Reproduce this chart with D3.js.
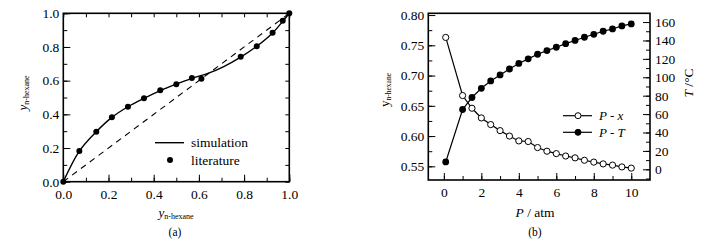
<!DOCTYPE html>
<html>
<head>
<meta charset="utf-8">
<script src="https://cdn.jsdelivr.net/npm/d3@7"></script>
<style>
  body { margin: 0; background: #fff; }
  svg text { font-family: "Liberation Serif", "Times New Roman", serif; fill: #000; }
  .frame { fill: none; stroke: #000; stroke-width: 1.6; }
  .tick line { stroke: #000; stroke-width: 1; }
  .domain { display: none; }
</style>
</head>
<body>
<div id="chart"></div>
<script>
// DATA (a): x-y diagram
var litX = [0, 0.071, 0.146, 0.215, 0.286, 0.357, 0.429, 0.5, 0.569, 0.611, 0.785, 0.856, 0.926, 0.971, 1.0]
var litY = [0, 0.182, 0.297, 0.382, 0.445, 0.495, 0.543, 0.578, 0.616, 0.612, 0.742, 0.804, 0.885, 0.956, 1.0]
var simX = [0, 0.071, 0.146, 0.215, 0.286, 0.357, 0.429, 0.5, 0.569, 0.64, 0.71, 0.785, 0.856, 0.926, 0.971, 1.0]
var simY = [0, 0.182, 0.297, 0.382, 0.445, 0.495, 0.541, 0.58, 0.614, 0.643, 0.684, 0.74, 0.804, 0.883, 0.952, 1.0]
var diagonal = [0, 1]
var ticksA = [0, 0.2, 0.4, 0.6, 0.8, 1.0]

// DATA (b): pressure sweep
var pressure = [0.1, 1, 1.5, 2, 2.5, 3, 3.5, 4, 4.5, 5, 5.5, 6, 6.5, 7, 7.5, 8, 8.5, 9, 9.5, 10]
var yHexane  = [0.763, 0.667, 0.646, 0.630, 0.619, 0.609, 0.600, 0.592, 0.591, 0.581, 0.575, 0.571, 0.567, 0.564, 0.560, 0.557, 0.554, 0.552, 0.549, 0.547]
var tempC    = [8, 65, 78, 88, 96, 102.5, 109, 115, 120, 125, 129, 132.6, 136.5, 140, 143.5, 146.7, 150, 152.5, 155.8, 158]
var ticksBx = [0, 2, 4, 6, 8, 10]
var ticksBy = [0.55, 0.60, 0.65, 0.70, 0.75, 0.80]
var ticksBt = [0, 20, 40, 60, 80, 100, 120, 140, 160]

var W = 705, H = 242
var FONT = '"Liberation Serif", "Times New Roman", serif'
const svg = d3.select("#chart").append("svg").attr("width", W).attr("height", H)
  .attr("font-family", FONT)

//---------------- PANEL A ----------------
var A = { LEFT: 63.3, RIGHT: 289.3, TOP: 13.3, BOTTOM: 181.7 }
let xA = d3.scaleLinear().domain([0, 1]).range([A.LEFT, A.RIGHT])
let yA = d3.scaleLinear().domain([0, 1]).range([A.BOTTOM, A.TOP])
const gA = svg.append("g")

function minorOf(scale, step) {
  var d = scale.domain(), out = []
  for (var v = Math.ceil(d[0] / step - 1e-9) * step; v <= d[1] + 1e-9; v += step) out.push(+v.toFixed(6))
  return out
}
function axisFont(sel) { sel.attr("font-family", FONT) }

// minor + major ticks, inward on all sides
gA.append("g").attr("transform", `translate(0,${A.BOTTOM})`)
  .call(d3.axisBottom(xA).tickValues(minorOf(xA, 0.1)).tickSize(-4).tickFormat(""))
gA.append("g").attr("transform", `translate(0,${A.BOTTOM})`)
  .call(d3.axisBottom(xA).tickValues(ticksA).tickSize(-7).tickPadding(5).tickFormat(d3.format(".1f")))
  .call(axisFont)
  .selectAll("text").attr("font-size", 13.5).attr("dy", "0.9em")
gA.append("g").attr("transform", `translate(${A.LEFT},0)`)
  .call(d3.axisLeft(yA).tickValues(minorOf(yA, 0.1)).tickSize(-4).tickFormat(""))
gA.append("g").attr("transform", `translate(${A.LEFT},0)`)
  .call(d3.axisLeft(yA).tickValues(ticksA).tickSize(-7).tickPadding(4).tickFormat(d3.format(".1f")))
  .call(axisFont)
  .selectAll("text").attr("font-size", 13.5)
gA.append("g").attr("transform", `translate(0,${A.TOP})`)
  .call(d3.axisTop(xA).tickValues(minorOf(xA, 0.1)).tickSize(-4).tickFormat(""))
  .selectAll("line").attr("stroke", "#888")
gA.append("g").attr("transform", `translate(${A.RIGHT},0)`)
  .call(d3.axisRight(yA).tickValues(minorOf(yA, 0.1)).tickSize(-4).tickFormat(""))
  .selectAll("line").attr("stroke", "#888")
gA.append("rect").attr("class", "frame")
  .attr("x", A.LEFT).attr("y", A.TOP).attr("width", A.RIGHT - A.LEFT).attr("height", A.BOTTOM - A.TOP)

// diagonal
gA.append("line")
  .attr("x1", xA(diagonal[0])).attr("y1", yA(diagonal[0]))
  .attr("x2", xA(diagonal[1])).attr("y2", yA(diagonal[1]))
  .attr("stroke", "#000").attr("stroke-width", 1.1).attr("stroke-dasharray", "6,5")

// simulation curve
var simLine = d3.line().curve(d3.curveCatmullRom.alpha(0.5)).x(d => xA(d[0])).y(d => yA(d[1]))
gA.append("path").attr("d", simLine(d3.zip(simX, simY)))
  .attr("fill", "none").attr("stroke", "#000").attr("stroke-width", 1.4)

// literature dots
gA.selectAll(".lit").data(d3.zip(litX, litY)).join("circle")
  .attr("class", "lit").attr("cx", d => xA(d[0])).attr("cy", d => yA(d[1]))
  .attr("r", 3).attr("fill", "#000")

// legend
gA.append("line").attr("x1", 155).attr("x2", 184).attr("y1", 142.7).attr("y2", 142.7)
  .attr("stroke", "#000").attr("stroke-width", 1.4)
gA.append("text").attr("x", 191).attr("y", 147).attr("font-size", 13.5).text("simulation")
gA.append("circle").attr("cx", 170).attr("cy", 160).attr("r", 3).attr("fill", "#000")
gA.append("text").attr("x", 191).attr("y", 164.5).attr("font-size", 13.5).text("literature")

// axis labels
var xlabA = gA.append("text").attr("x", 176).attr("y", 217).attr("text-anchor", "middle")
xlabA.append("tspan").attr("font-style", "italic").attr("font-size", 13).text("y")
xlabA.append("tspan").attr("font-size", 8).attr("dy", 2).text("n-hexane")
var ylabA = gA.append("text").attr("text-anchor", "middle")
  .attr("transform", "translate(27,93) rotate(-90)")
ylabA.append("tspan").attr("font-style", "italic").attr("font-size", 13).text("y")
ylabA.append("tspan").attr("font-size", 8).attr("dy", 2).text("n-hexane")
gA.append("text").attr("x", 175).attr("y", 236).attr("text-anchor", "middle").attr("font-size", 11.5).text("(a)")

//---------------- PANEL B ----------------
var B = { LEFT: 428.3, RIGHT: 650, TOP: 13.3, BOTTOM: 180 }
let xB = d3.scaleLinear().domain([-0.83, 11]).range([B.LEFT, B.RIGHT])
let yB = d3.scaleLinear().domain([0.5274, 0.8029]).range([B.BOTTOM, B.TOP])
let tB = d3.scaleLinear().domain([-11.6, 169.5]).range([B.BOTTOM, B.TOP])
const gB = svg.append("g")

gB.append("g").attr("transform", `translate(0,${B.BOTTOM})`)
  .call(d3.axisBottom(xB).tickValues(d3.range(0, 11, 1)).tickSize(-4).tickFormat(""))
gB.append("g").attr("transform", `translate(0,${B.BOTTOM})`)
  .call(d3.axisBottom(xB).tickValues(ticksBx).tickSize(-7).tickPadding(5))
  .call(axisFont)
  .selectAll("text").attr("font-size", 13.5).attr("dy", "0.9em")
gB.append("g").attr("transform", `translate(${B.LEFT},0)`)
  .call(d3.axisLeft(yB).tickValues(d3.range(0.55, 0.80, 0.025)).tickSize(-4).tickFormat(""))
gB.append("g").attr("transform", `translate(${B.LEFT},0)`)
  .call(d3.axisLeft(yB).tickValues(ticksBy).tickSize(-7).tickPadding(4).tickFormat(d3.format(".2f")))
  .call(axisFont)
  .selectAll("text").attr("font-size", 13.5)
gB.append("g").attr("transform", `translate(${B.RIGHT},0)`)
  .call(d3.axisRight(tB).tickValues(d3.range(-10, 170, 10)).tickSize(-4).tickFormat(""))
gB.append("g").attr("transform", `translate(${B.RIGHT},0)`)
  .call(d3.axisRight(tB).tickValues(ticksBt).tickSize(-7).tickPadding(4))
  .call(axisFont)
  .selectAll("text").attr("font-size", 13.5).attr("x", 5)
gB.append("rect").attr("class", "frame")
  .attr("x", B.LEFT).attr("y", B.TOP).attr("width", B.RIGHT - B.LEFT).attr("height", B.BOTTOM - B.TOP)

// P-T series (right axis)
var ptLine = d3.line().x(d => xB(d[0])).y(d => tB(d[1]))
gB.append("path").attr("d", ptLine(d3.zip(pressure, tempC)))
  .attr("fill", "none").attr("stroke", "#000").attr("stroke-width", 1.2)
// P-x series (left axis)
var pxLine = d3.line().x(d => xB(d[0])).y(d => yB(d[1]))
gB.append("path").attr("d", pxLine(d3.zip(pressure, yHexane)))
  .attr("fill", "none").attr("stroke", "#000").attr("stroke-width", 1.2)

gB.selectAll(".pt").data(d3.zip(pressure, tempC)).join("circle")
  .attr("class", "pt").attr("cx", d => xB(d[0])).attr("cy", d => tB(d[1]))
  .attr("r", 3.4).attr("fill", "#000")
gB.selectAll(".px").data(d3.zip(pressure, yHexane)).join("circle")
  .attr("class", "px").attr("cx", d => xB(d[0])).attr("cy", d => yB(d[1]))
  .attr("r", 3.1).attr("fill", "#fff").attr("stroke", "#000").attr("stroke-width", 1)

// legend
var legB = [{ y: 115.7, fill: "#fff", a: "P", b: "x" }, { y: 132.3, fill: "#000", a: "P", b: "T" }]
legB.forEach(function (d) {
  gB.append("line").attr("x1", 563).attr("x2", 592).attr("y1", d.y).attr("y2", d.y)
    .attr("stroke", "#000").attr("stroke-width", 1.2)
  gB.append("circle").attr("cx", 578).attr("cy", d.y).attr("r", 3)
    .attr("fill", d.fill).attr("stroke", "#000").attr("stroke-width", 1)
  gB.append("text").attr("x", 599).attr("y", d.y + 4.5).attr("font-size", 13).attr("font-style", "italic")
    .text(d.a + " - " + d.b)
})

// axis labels
var xlabB = gB.append("text").attr("x", 535).attr("y", 217).attr("text-anchor", "middle").attr("font-size", 13.5)
xlabB.append("tspan").attr("font-style", "italic").text("P")
xlabB.append("tspan").text(" / atm")
var ylabB = gB.append("text").attr("text-anchor", "middle")
  .attr("transform", "translate(389,90) rotate(-90)")
ylabB.append("tspan").attr("font-size", 13).text("y")
ylabB.append("tspan").attr("font-size", 7.5).attr("dy", 2).text("n-hexane")
var tlab = gB.append("text").attr("text-anchor", "middle").attr("font-size", 13.5)
  .attr("transform", "translate(693,83) rotate(-90)")
tlab.append("tspan").attr("font-style", "italic").text("T")
tlab.append("tspan").text(" /\u00b0C")
gB.append("text").attr("x", 535).attr("y", 236).attr("text-anchor", "middle").attr("font-size", 11.5).text("(b)")
</script>
</body>
</html>
